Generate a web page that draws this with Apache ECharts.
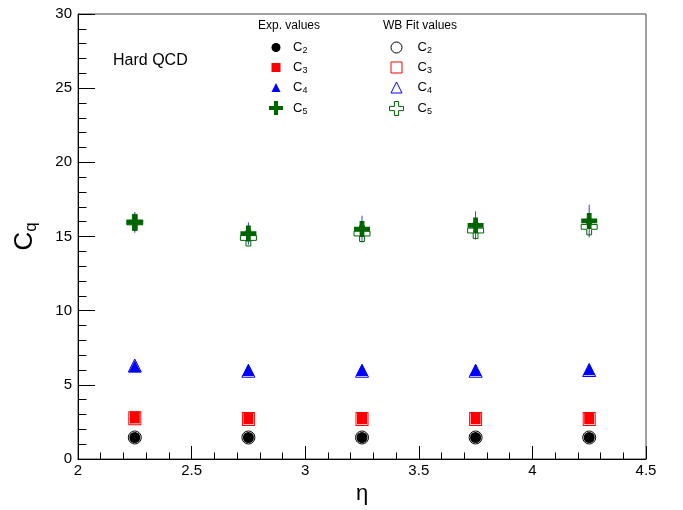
<!DOCTYPE html>
<html>
<head>
<meta charset="utf-8">
<script src="https://cdn.jsdelivr.net/npm/echarts@6/dist/echarts.min.js"></script>
<style>html,body{margin:0;padding:0;background:#fff;}#c{width:683px;height:510px;}</style>
</head>
<body>
<div id="c"></div>
<script>
const eta = [2.25, 2.75, 3.25, 3.75, 4.25];
const c2Exp = [1.45, 1.45, 1.45, 1.45, 1.45];
const c2Fit = [1.45, 1.45, 1.45, 1.45, 1.45];
const c3Exp = [2.8, 2.75, 2.75, 2.75, 2.75];
const c3Fit = [2.75, 2.7, 2.7, 2.7, 2.7];
const c4Exp = [6.25, 6.0, 6.0, 6.0, 6.05];
const c4Fit = [6.3, 5.95, 5.95, 5.95, 6.0];
const c5Exp = [15.95, 15.2, 15.5, 15.75, 16.05];
const c5Fit = [15.95, 14.9, 15.2, 15.4, 15.65];
const c5Err = [0.7, 0.75, 0.9, 0.95, 1.1];
const c4Err = [0.15, 0.15, 0.15, 0.15, 0.15];
const xTicks = [2, 2.5, 3, 3.5, 4, 4.5];
const yTicks = [0, 5, 10, 15, 20, 25, 30];

const FONT = 'Liberation Sans, Arial, Helvetica, sans-serif';
const CROSS = 'path://M7,0H13V7H20V13H13V20H7V13H0V7H7Z';
const pts = arr => eta.map((x, i) => [x, arr[i]]);
const errData = (v, e) => eta.map((x, i) => [x, v[i] - e[i], v[i] + e[i]]);

const chart = echarts.init(document.getElementById('c'), null, {renderer: 'canvas'});

function errSeries(v, e) {
  return {
    type: 'custom', z: 1, silent: true,
    data: errData(v, e),
    encode: {x: 0, y: [1, 2]},
    renderItem: function (params, api) {
      const x = api.value(0);
      const p1 = api.coord([x, api.value(1)]);
      const p2 = api.coord([x, api.value(2)]);
      return {type: 'line', shape: {x1: p1[0], y1: p1[1], x2: p2[0], y2: p2[1]},
              style: {stroke: '#3a3ad8', lineWidth: 1}};
    }
  };
}

const subFmt = name => '{c|C}{s|' + name.slice(-1) + '}';
const legendRich = {
  c: {fontFamily: FONT, fontSize: 13, color: '#000', lineHeight: 16, verticalAlign: 'middle'},
  s: {fontFamily: FONT, fontSize: 9, color: '#000', lineHeight: 10, verticalAlign: 'bottom'}
};
function leg(left, top, size, pad, data) {
  return {
    orient: 'vertical', left: left, top: top, itemWidth: size, itemHeight: size, itemGap: 5.5,
    selectedMode: false, formatter: subFmt, padding: 0,
    textStyle: {rich: legendRich, padding: [0, 0, 0, pad]},
    data: data
  };
}

const option = {
  animation: false,
  backgroundColor: '#fff',
  grid: {left: 78, right: 37, top: 14, bottom: 51, show: true, borderColor: '#444', borderWidth: 1, backgroundColor: 'transparent'},
  xAxis: {
    type: 'value', min: xTicks[0], max: xTicks[xTicks.length - 1], interval: 0.5,
    name: 'η', nameLocation: 'middle', nameGap: 22,
    nameTextStyle: {fontFamily: FONT, fontSize: 22, color: '#000'},
    axisLine: {show: true, lineStyle: {color: '#000', width: 1}},
    axisTick: {show: true, inside: true, length: 13, lineStyle: {color: '#000'}},
    minorTick: {show: true, splitNumber: 5, length: 6.5, lineStyle: {color: '#000'}},
    splitLine: {show: false},
    axisLabel: {fontFamily: FONT, fontSize: 15, color: '#000', margin: 4, showMinLabel: true, showMaxLabel: true}
  },
  yAxis: {
    type: 'value', min: yTicks[0], max: yTicks[yTicks.length - 1], interval: 5,
    name: '{c|C}{q|q}', nameLocation: 'middle', nameGap: 38, nameRotate: 90,
    nameTextStyle: {
      rich: {
        c: {fontFamily: FONT, fontSize: 26, color: '#000', lineHeight: 30, verticalAlign: 'middle'},
        q: {fontFamily: FONT, fontSize: 17, color: '#000', lineHeight: 18, verticalAlign: 'bottom'}
      }
    },
    axisLine: {show: true, lineStyle: {color: '#000', width: 1}},
    axisTick: {show: true, inside: true, length: 17, lineStyle: {color: '#000'}},
    minorTick: {show: true, splitNumber: 5, length: 8.5, lineStyle: {color: '#000'}},
    splitLine: {show: false},
    axisLabel: {fontFamily: FONT, fontSize: 15, color: '#000', margin: 6}
  },
  legend: [
    leg(271.5, 41, 9, 7.5, [
      {name: 'Exp C2', icon: 'circle', itemStyle: {color: '#000'}},
      {name: 'Exp C3', icon: 'rect', itemStyle: {color: '#ff0000'}},
      {name: 'Exp C4', icon: 'triangle', itemStyle: {color: '#0000ff'}}
    ]),
    leg(269, 101, 14, 5, [
      {name: 'Exp C5', icon: CROSS, itemStyle: {color: '#006400'}}
    ]),
    leg(390.5, 41, 11, 10.5, [
      {name: 'Fit C2', icon: 'circle', itemStyle: {color: '#fff', borderColor: '#000', borderWidth: 1}},
      {name: 'Fit C3', icon: 'rect', itemStyle: {color: '#fff', borderColor: '#ff0000', borderWidth: 1}},
      {name: 'Fit C4', icon: 'triangle', itemStyle: {color: '#fff', borderColor: '#0000ff', borderWidth: 1}}
    ]),
    leg(389, 101, 14, 9, [
      {name: 'Fit C5', icon: CROSS, itemStyle: {color: '#fff', borderColor: '#006400', borderWidth: 1}}
    ])
  ],
  graphic: [
    {type: 'text', left: 113, top: 53, style: {text: 'Hard QCD', font: '16px ' + FONT, fill: '#000'}},
    {type: 'text', left: 258, top: 20, style: {text: 'Exp. values', font: '12px ' + FONT, fill: '#000'}},
    {type: 'text', left: 383, top: 20, style: {text: 'WB Fit values', font: '12px ' + FONT, fill: '#000'}}
  ],
  series: [
    errSeries(c5Exp, c5Err),
    errSeries(c4Exp, c4Err),
    {name: 'Exp C2', type: 'scatter', z: 2, data: pts(c2Exp), symbol: 'circle', symbolSize: 11, itemStyle: {color: '#000', opacity: 1}},
    {name: 'Exp C3', type: 'scatter', z: 2, data: pts(c3Exp), symbol: 'rect', symbolSize: [10, 12], itemStyle: {color: '#ff0000', opacity: 1}},
    {name: 'Exp C4', type: 'scatter', z: 2, data: pts(c4Exp), symbol: 'triangle', symbolSize: [12, 12], itemStyle: {color: '#0000ff', opacity: 1}},
    {name: 'Exp C5', type: 'scatter', z: 2, data: pts(c5Exp), symbol: CROSS, symbolSize: 16, itemStyle: {color: '#006400', opacity: 1}},
    {name: 'Fit C2', type: 'scatter', z: 3, data: pts(c2Fit), symbol: 'circle', symbolSize: 13, itemStyle: {color: 'rgba(0,0,0,0)', borderColor: '#000', borderWidth: 1, opacity: 1}},
    {name: 'Fit C3', type: 'scatter', z: 3, data: pts(c3Fit), symbol: 'rect', symbolSize: [12, 13], itemStyle: {color: 'rgba(0,0,0,0)', borderColor: '#ff0000', borderWidth: 1, opacity: 1}},
    {name: 'Fit C4', type: 'scatter', z: 3, data: pts(c4Fit), symbol: 'triangle', symbolSize: [13, 13], itemStyle: {color: 'rgba(0,0,0,0)', borderColor: '#0000ff', borderWidth: 1, opacity: 1}},
    {name: 'Fit C5', type: 'scatter', z: 3, data: pts(c5Fit), symbol: CROSS, symbolSize: 16, itemStyle: {color: 'rgba(0,0,0,0)', borderColor: '#006400', borderWidth: 1, opacity: 1}}
  ]
};
chart.setOption(option);
</script>
</body>
</html>
